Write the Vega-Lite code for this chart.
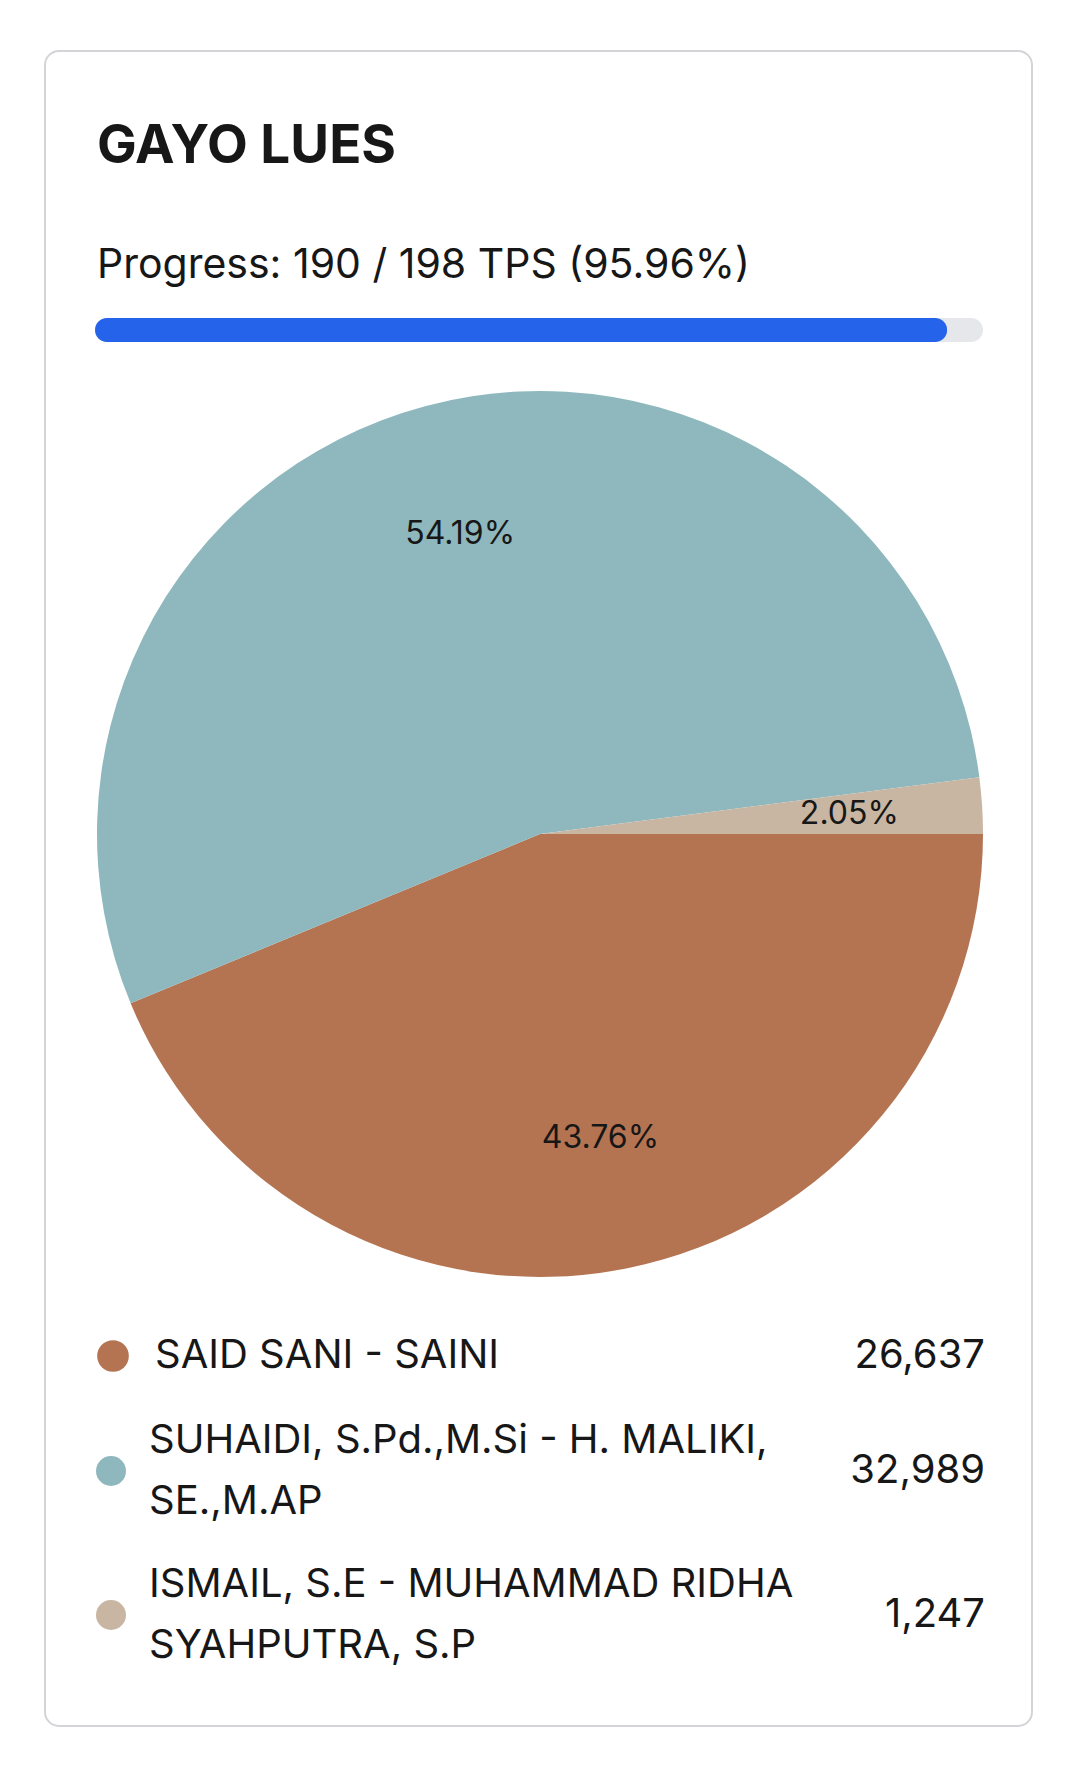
{
  "$schema": "https://vega.github.io/schema/vega-lite/v6.json",
  "width": 987,
  "height": 1675,
  "autosize": "none",
  "padding": {"left": 45, "top": 51, "right": 48, "bottom": 45},
  "background": "white",
  "config": {
    "view": {"stroke": "#d4d4d8", "strokeWidth": 2, "cornerRadius": 14},
    "font": "Inter",
    "text": {"color": "#171717"}
  },
  "datasets": {
    "votes": [
      {"order": 1, "name": "SAID SANI - SAINI", "label": "SAID SANI - SAINI", "votes": 26637, "pct": "43.76%"},
      {"order": 2, "name": "SUHAIDI, S.Pd.,M.Si - H. MALIKI, SE.,M.AP", "label": "SUHAIDI, S.Pd.,M.Si - H. MALIKI,\nSE.,M.AP", "votes": 32989, "pct": "54.19%"},
      {"order": 3, "name": "ISMAIL, S.E - MUHAMMAD RIDHA SYAHPUTRA, S.P", "label": "ISMAIL, S.E - MUHAMMAD RIDHA\nSYAHPUTRA, S.P", "votes": 1247, "pct": "2.05%"}
    ],
    "header": [
      {"k": "title", "t": "GAYO LUES"},
      {"k": "progress", "t": "Progress: 190 / 198 TPS (95.96%)"}
    ],
    "progress": [
      {"bar": "TPS", "kind": "total", "tps": 198},
      {"bar": "TPS", "kind": "done", "tps": 190}
    ]
  },
  "layer": [
    {
      "data": {"name": "header"},
      "transform": [{"filter": "datum.k === 'title'"}],
      "mark": {"type": "text", "fontSize": 53, "fontWeight": "bold", "align": "left", "baseline": "alphabetic"},
      "encoding": {"text": {"field": "t"}, "x": {"value": 52}, "y": {"value": 112}}
    },
    {
      "data": {"name": "header"},
      "transform": [{"filter": "datum.k === 'progress'"}],
      "mark": {"type": "text", "fontSize": 41, "align": "left", "baseline": "alphabetic"},
      "encoding": {"text": {"field": "t"}, "x": {"value": 52}, "y": {"value": 227}}
    },
    {
      "data": {"name": "progress"},
      "layer": [
        {
          "transform": [{"filter": "datum.kind === 'total'"}],
          "mark": {"type": "bar", "color": "#e5e7eb", "cornerRadius": 12},
          "encoding": {
            "x": {"field": "tps", "type": "quantitative", "scale": {"domain": [0, 198], "range": [50, 938]}, "axis": null},
            "y": {"field": "bar", "type": "nominal", "scale": {"range": [267, 291], "paddingInner": 0, "paddingOuter": 0}, "axis": null}
          }
        },
        {
          "transform": [{"filter": "datum.kind === 'done'"}],
          "mark": {"type": "bar", "color": "#2563eb", "cornerRadius": 12},
          "encoding": {
            "x": {"field": "tps", "type": "quantitative", "scale": {"domain": [0, 198], "range": [50, 938]}, "axis": null},
            "y": {"field": "bar", "type": "nominal", "scale": {"range": [267, 291], "paddingInner": 0, "paddingOuter": 0}, "axis": null}
          }
        }
      ]
    },
    {
      "data": {"name": "votes"},
      "mark": {"type": "arc", "outerRadius": 443},
      "encoding": {
        "theta": {"field": "votes", "type": "quantitative", "stack": true, "scale": {"range": [1.5707963, 7.8539816]}},
        "order": {"field": "order", "type": "quantitative"},
        "color": {"field": "name", "type": "nominal", "scale": {"domain": ["SAID SANI - SAINI", "SUHAIDI, S.Pd.,M.Si - H. MALIKI, SE.,M.AP", "ISMAIL, S.E - MUHAMMAD RIDHA SYAHPUTRA, S.P"], "range": ["#b47452", "#8eb8bd", "#c8b6a2"]}, "legend": null},
        "x": {"value": 495},
        "y": {"value": 783}
      }
    },
    {
      "data": {"name": "votes"},
      "mark": {"type": "text", "radius": 310, "fontSize": 32, "align": "center", "baseline": "middle"},
      "encoding": {
        "theta": {"field": "votes", "type": "quantitative", "stack": true, "scale": {"range": [1.5707963, 7.8539816]}},
        "order": {"field": "order", "type": "quantitative"},
        "text": {"field": "pct"},
        "x": {"value": 495},
        "y": {"value": 783}
      }
    },
    {
      "data": {"name": "votes"},
      "transform": [{"filter": "datum.order === 1"}],
      "encoding": {
        "y": {"field": "order", "type": "ordinal", "scale": {"type": "point", "range": [1305, 1305], "padding": 0}, "axis": null}
      },
      "layer": [
        {
          "mark": {"type": "point", "filled": true, "opacity": 1, "shape": "circle", "size": 1000},
          "encoding": {"x": {"value": 68}, "color": {"field": "name", "type": "nominal", "legend": null}}
        },
        {
          "mark": {"type": "text", "fontSize": 40, "align": "left", "baseline": "middle"},
          "encoding": {"x": {"value": 110}, "text": {"field": "label"}}
        },
        {
          "mark": {"type": "text", "fontSize": 40, "align": "right", "baseline": "middle"},
          "encoding": {"x": {"value": 940}, "text": {"field": "votes", "type": "quantitative", "format": ","}}
        }
      ]
    },
    {
      "data": {"name": "votes"},
      "transform": [{"filter": "datum.order > 1"}],
      "encoding": {
        "y": {"field": "order", "type": "ordinal", "scale": {"type": "point", "range": [1420, 1564], "padding": 0}, "axis": null}
      },
      "layer": [
        {
          "mark": {"type": "point", "filled": true, "opacity": 1, "shape": "circle", "size": 900},
          "encoding": {"x": {"value": 66}, "color": {"field": "name", "type": "nominal", "legend": null}}
        },
        {
          "mark": {"type": "text", "fontSize": 40, "align": "left", "baseline": "middle", "lineBreak": "\n", "lineHeight": 61, "dy": -30},
          "encoding": {"x": {"value": 104}, "text": {"field": "label"}}
        },
        {
          "mark": {"type": "text", "fontSize": 40, "align": "right", "baseline": "middle"},
          "encoding": {"x": {"value": 940}, "text": {"field": "votes", "type": "quantitative", "format": ","}}
        }
      ]
    }
  ],
  "resolve": {"scale": {"x": "independent", "y": "independent"}}
}
